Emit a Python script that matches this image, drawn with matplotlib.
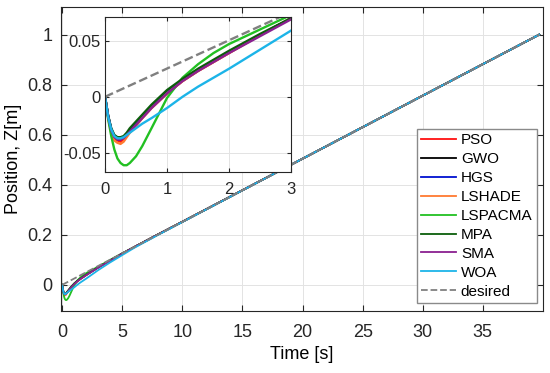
import matplotlib
matplotlib.use("Agg")
import matplotlib.pyplot as plt

plt.rcParams['font.family'] = ['Liberation Sans', 'DejaVu Sans']

# time samples (s)
t = [0, 0.05, 0.1, 0.15, 0.2, 0.25, 0.3, 0.35, 0.4, 0.5, 0.6, 0.75, 1.0, 1.25,
     1.5, 1.75, 2.0, 2.5, 3.0, 4.0, 5.0, 6.0, 8.0, 10, 20, 30, 39.7]
tail = [0.202, 0.252, 0.504, 0.756, 1.0]

pso = [0, -0.018, -0.031, -0.037, -0.039, -0.040, -0.038, -0.035, -0.031, -0.025, -0.019, -0.010,
       0.003, 0.014, 0.023, 0.031, 0.039, 0.055, 0.070, 0.098, 0.125, 0.151] + tail
gwo = [0, -0.017, -0.029, -0.035, -0.037, -0.037, -0.036, -0.033, -0.030, -0.024, -0.018, -0.009,
       0.004, 0.015, 0.024, 0.032, 0.040, 0.055, 0.070, 0.098, 0.125, 0.151] + tail
hgs = [0, -0.017, -0.029, -0.035, -0.038, -0.038, -0.036, -0.033, -0.030, -0.024, -0.018, -0.009,
       0.004, 0.015, 0.024, 0.032, 0.040, 0.055, 0.070, 0.098, 0.125, 0.151] + tail
lshade = [0, -0.019, -0.032, -0.039, -0.041, -0.042, -0.040, -0.036, -0.032, -0.026, -0.019, -0.010,
          0.003, 0.014, 0.023, 0.031, 0.039, 0.055, 0.070, 0.098, 0.125, 0.151] + tail
lspacma = [0, -0.020, -0.035, -0.047, -0.055, -0.059, -0.061, -0.061, -0.059, -0.053, -0.044, -0.028,
           -0.001, 0.017, 0.029, 0.039, 0.047, 0.060, 0.073, 0.100, 0.126, 0.151] + tail
mpa = [0, -0.017, -0.028, -0.034, -0.036, -0.036, -0.035, -0.032, -0.028, -0.022, -0.016, -0.007,
       0.006, 0.016, 0.025, 0.033, 0.041, 0.056, 0.070, 0.098, 0.125, 0.151] + tail
sma = [0, -0.018, -0.030, -0.036, -0.038, -0.038, -0.037, -0.034, -0.031, -0.025, -0.019, -0.010,
       0.003, 0.014, 0.023, 0.031, 0.039, 0.054, 0.069, 0.097, 0.125, 0.151] + tail
woa = [0, -0.018, -0.029, -0.035, -0.037, -0.037, -0.036, -0.034, -0.032, -0.028, -0.024, -0.019,
       -0.010, 0.000, 0.009, 0.017, 0.025, 0.042, 0.059, 0.090, 0.119, 0.148, 0.200, 0.251, 0.504, 0.756, 1.0]

t_des = [0, 39.7]
z_des = [0, 1.0]

names = ['PSO', 'GWO', 'HGS', 'LSHADE', 'LSPACMA', 'MPA', 'SMA', 'WOA']
series = [pso, gwo, hgs, lshade, lspacma, mpa, sma, woa]
colors = ['#ff1010', '#000000', '#0010d0', '#ff7a30', '#22c022', '#0b5e0b', '#8a2090', '#1cb4e8']

fig = plt.figure(figsize=(5.5, 3.73), dpi=100)
ax = fig.add_axes([0.111, 0.166, 0.876, 0.815])

for name, z, c in zip(names, series, colors):
    ax.plot(t, z, color=c, lw=1.3, label=name)
ax.plot(t_des, z_des, color='#808080', ls='--', lw=1.3, label='desired')

ax.set_xlim(-0.1, 40)
ax.set_ylim(-0.105, 1.11)
ax.set_xticks(range(0, 40, 5))
ax.set_yticks([0, 0.2, 0.4, 0.6, 0.8, 1])
ax.set_yticklabels(['0', '0.2', '0.4', '0.6', '0.8', '1'])
ax.grid(True, color='#e3e3e3', lw=0.7)
ax.tick_params(direction='in', top=True, right=True, labelsize=13, length=4, colors='#262626')
ax.tick_params(axis='x', pad=9)
ax.tick_params(axis='y', pad=6)
for s in ax.spines.values():
    s.set_color('#262626')
ax.set_xlabel('Time [s]', fontsize=13, labelpad=4)
ax.set_ylabel('Position, Z[m]', fontsize=13, labelpad=4)

leg = ax.legend(loc='lower right', bbox_to_anchor=(0.988, 0.026), borderaxespad=0,
                fontsize=11, fancybox=False, framealpha=1, edgecolor='#8a8a8a',
                labelspacing=0.32, handlelength=2.3, handletextpad=0.3, borderpad=0.3)
leg.get_frame().set_linewidth(1.0)

# inset zoom on start
ins = fig.add_axes([0.191, 0.539, 0.338, 0.415])
for name, z, c in zip(names, series, colors):
    ins.plot(t, z, color=c, lw=1.7)
ins.plot(t_des, z_des, color='#808080', ls='--', lw=1.7)
ins.set_xlim(0, 3)
ins.set_ylim(-0.067, 0.071)
ins.set_xticks([0, 1, 2, 3])
ins.set_yticks([-0.05, 0, 0.05])
ins.set_yticklabels(['-0.05', '0', '0.05'])
ins.grid(True, color='#e3e3e3', lw=0.7)
ins.tick_params(direction='in', top=True, right=True, labelsize=12, length=3, colors='#262626')
ins.tick_params(axis='x', pad=7)
ins.tick_params(axis='y', pad=3)
for s in ins.spines.values():
    s.set_color('#262626')

fig.savefig('out.png', dpi=100)
